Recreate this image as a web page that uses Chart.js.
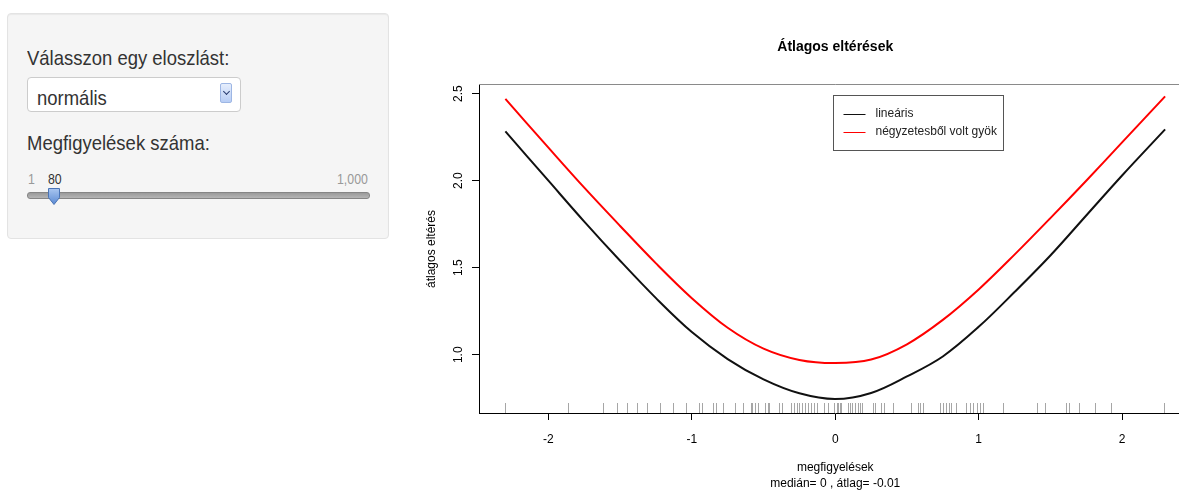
<!DOCTYPE html>
<html>
<head>
<meta charset="utf-8">
<script src="https://cdn.jsdelivr.net/npm/chart.js@4.4.0/dist/chart.umd.min.js"></script>
<style>
html,body{margin:0;padding:0;background:#fff;width:1179px;height:500px;overflow:hidden;position:relative;}
#panel{position:absolute;left:7px;top:13px;width:380px;height:224px;background:#f5f5f5;border:1px solid #e3e3e3;border-radius:4px;box-shadow:inset 0 1px 1px rgba(0,0,0,0.05);}
.t{position:absolute;white-space:nowrap;transform-origin:0 50%;transform:scaleX(0.88);font-family:"Liberation Sans",Arial,sans-serif;color:#333;line-height:1;}
.big{font-size:21px;height:21px;}
.small{font-size:14px;height:14px;}
#select{position:absolute;left:27px;top:77px;width:212px;height:33px;background:#fff;border:1px solid #ccc;border-radius:4px;}
#arrow{position:absolute;left:220px;top:83px;width:12px;height:20px;background:linear-gradient(#e6eefc,#b7cdf5);border:1px solid #9db6e4;border-radius:2px;box-sizing:border-box;}
#arrow:after{content:"";position:absolute;left:3px;top:5px;width:4px;height:4px;border-right:1.5px solid #283c70;border-bottom:1.5px solid #283c70;transform:rotate(45deg);}
#track{position:absolute;left:27px;top:192px;width:341px;height:5px;background:linear-gradient(#9a9a9a,#b5b5b5);border:1px solid #858585;border-radius:3px;}
#handle{position:absolute;left:47px;top:187px;}
#chart{position:absolute;left:400px;top:0;}
</style>
</head>
<body>
<div id="panel"></div>
<div class="t big" style="left:27px;top:47px;">Válasszon egy eloszlást:</div>
<div id="select"></div>
<div class="t big" style="left:37px;top:87px;">normális</div>
<div id="arrow"></div>
<div class="t big" style="left:27px;top:132px;">Megfigyelések száma:</div>
<div class="t small" style="left:28px;top:172px;color:#999;">1</div>
<div class="t small" style="left:48px;top:172px;color:#333;">80</div>
<div class="t small" style="left:337px;top:172px;color:#999;">1,000</div>
<div id="track"></div>
<svg id="handle" width="14" height="19" viewBox="0 0 14 19">
  <defs><linearGradient id="hg" x1="0" y1="0" x2="0" y2="1"><stop offset="0" stop-color="#a9c6f0"/><stop offset="1" stop-color="#5b8ad3"/></linearGradient></defs>
  <path d="M1.5,1.5 H12.5 V10.5 L7,17.5 L1.5,10.5 Z" fill="url(#hg)" stroke="#4a74b5" stroke-width="1"/>
</svg>
<canvas id="chart" width="820" height="500"></canvas>
<script>
// ---- data ----
const chartTitle = 'Átlagos eltérések';
const seriesNames = ['lineáris', 'négyzetesből volt gyök'];
const xTitleLines = ['megfigyelések', 'medián= 0 , átlag= -0.01'];
const yTitleText = 'átlagos eltérés';
const xTicks = [-2, -1, 0, 1, 2];
const yTicks = [1.0, 1.5, 2.0, 2.5];
const gridX = [-2.3, -2.0, -1.75, -1.5, -1.25, -1.0, -0.75, -0.5, -0.25, 0, 0.25, 0.5, 0.75, 1.0, 1.25, 1.5, 1.75, 2.0, 2.3];
const linearVals = [2.283, 2.00, 1.765, 1.54, 1.325, 1.13, 0.975, 0.858, 0.778, 0.745, 0.78, 0.875, 0.99, 1.16, 1.36, 1.57, 1.80, 2.03, 2.295];
const rootSqVals = [2.47, 2.19, 1.96, 1.74, 1.525, 1.325, 1.155, 1.035, 0.97, 0.952, 0.972, 1.06, 1.20, 1.375, 1.575, 1.785, 2.00, 2.22, 2.485];
const rugValues = [-2.30, -1.86, -1.62, -1.52, -1.45, -1.38, -1.31, -1.22, -1.13, -1.04, -0.95, -0.93, -0.85, -0.83, -0.78, -0.70, -0.64, -0.59, -0.58, -0.56, -0.54, -0.49, -0.47, -0.46, -0.39, -0.37, -0.31, -0.29, -0.27, -0.25, -0.23, -0.21, -0.19, -0.17, -0.15, -0.13, -0.08, -0.05, -0.01, 0.01, 0.02, 0.03, 0.04, 0.09, 0.10, 0.12, 0.14, 0.16, 0.17, 0.19, 0.26, 0.28, 0.32, 0.34, 0.40, 0.53, 0.58, 0.59, 0.61, 0.73, 0.75, 0.77, 0.79, 0.81, 0.84, 0.91, 0.94, 0.96, 0.99, 1.01, 1.03, 1.17, 1.41, 1.46, 1.61, 1.63, 1.70, 1.81, 1.92, 2.29];
const seriesColors = ['#111111', '#ff0000'];

const FONT = '"Liberation Sans", Arial, sans-serif';

const rPlot = {
  id: 'rPlot',
  beforeDatasetsDraw(chart) {
    const ctx = chart.ctx, ca = chart.chartArea, xs = chart.scales.x;
    ctx.save();
    ctx.strokeStyle = 'rgba(0,0,0,0.35)';
    ctx.lineWidth = 1;
    for (const v of rugValues) {
      const x = Math.round(xs.getPixelForValue(v)) + 0.5;
      ctx.beginPath();
      ctx.moveTo(x, ca.bottom - 10);
      ctx.lineTo(x, ca.bottom);
      ctx.stroke();
    }
    ctx.restore();
  },
  afterDraw(chart) {
    const ctx = chart.ctx, ca = chart.chartArea, ys = chart.scales.y;
    ctx.save();
    ctx.strokeStyle = '#8a8a8a';
    ctx.lineWidth = 1;
    ctx.beginPath();
    ctx.moveTo(ca.left, Math.round(ca.top) - 0.5);
    ctx.lineTo(ca.right, Math.round(ca.top) - 0.5);
    ctx.lineTo(ca.right, ca.bottom);
    ctx.stroke();
    ctx.fillStyle = '#000';
    ctx.font = '12px ' + FONT;
    ctx.textAlign = 'center';
    ctx.textBaseline = 'middle';
    for (const v of yTicks) {
      const y = ys.getPixelForValue(v);
      ctx.save();
      ctx.translate(ca.left - 20, y);
      ctx.rotate(-Math.PI / 2);
      ctx.fillText(v.toFixed(1), 0, 0);
      ctx.restore();
    }
    ctx.font = 'bold 14px ' + FONT;
    ctx.fillText(chartTitle, (ca.left + ca.right) / 2, 47);
    const lx = 433.5, ly = 95.5, lw = 170, lh = 55;
    ctx.fillStyle = '#fff';
    ctx.fillRect(lx, ly, lw, lh);
    ctx.strokeStyle = '#555';
    ctx.strokeRect(lx, ly, lw, lh);
    ctx.font = '12px ' + FONT;
    ctx.textAlign = 'left';
    chart.data.datasets.forEach((ds, i) => {
      const yy = ly + 18.5 + i * 17.5;
      ctx.strokeStyle = ds.borderColor;
      ctx.lineWidth = 1;
      ctx.beginPath();
      ctx.moveTo(lx + 10, Math.round(yy) + 0.5);
      ctx.lineTo(lx + 32, Math.round(yy) + 0.5);
      ctx.stroke();
      ctx.fillStyle = '#222';
      ctx.fillText(ds.label, lx + 42, yy);
    });
    ctx.restore();
  }
};

new Chart(document.getElementById('chart'), {
  type: 'line',
  data: {
    datasets: [
      { label: seriesNames[0], data: gridX.map((x, i) => ({ x, y: linearVals[i] })), borderColor: seriesColors[0], borderWidth: 2, pointRadius: 0, tension: 0.35, fill: false },
      { label: seriesNames[1], data: gridX.map((x, i) => ({ x, y: rootSqVals[i] })), borderColor: seriesColors[1], borderWidth: 2, pointRadius: 0, tension: 0.35, fill: false }
    ]
  },
  options: {
    responsive: false,
    animation: false,
    devicePixelRatio: 1,
    layout: { padding: { top: 85, right: 28.5, bottom: 0, left: 0 } },
    plugins: { legend: { display: false }, title: { display: false }, tooltip: { enabled: false } },
    scales: {
      x: {
        type: 'linear', min: -2.484, max: 2.484,
        afterBuildTicks: s => { s.ticks = xTicks.map(v => ({ value: v })); },
        afterFit: s => { s.height = 87; },
        ticks: { color: '#000', font: { family: FONT, size: 12 }, padding: 12, maxRotation: 0, autoSkip: false, callback: v => String(v) },
        grid: { display: true, drawOnChartArea: false, drawTicks: true, tickLength: 7, color: '#000', lineWidth: 1 },
        border: { display: true, color: '#000', width: 1 },
        title: { display: true, text: xTitleLines, color: '#000', font: { family: FONT, size: 12, lineHeight: 1.34 }, padding: { top: 0, bottom: 8 } }
      },
      y: {
        type: 'linear', min: 0.665, max: 2.55,
        afterBuildTicks: s => { s.ticks = yTicks.map(v => ({ value: v })); },
        afterFit: s => { s.width = 79; },
        ticks: { display: false },
        grid: { display: true, drawOnChartArea: false, drawTicks: true, tickLength: 7, color: '#000', lineWidth: 1 },
        border: { display: true, color: '#000', width: 1 },
        title: { display: true, text: yTitleText, color: '#000', font: { family: FONT, size: 12, lineHeight: 1.34 }, padding: { top: 24, bottom: 0 } }
      }
    }
  },
  plugins: [rPlot]
});
</script>
</body>
</html>
